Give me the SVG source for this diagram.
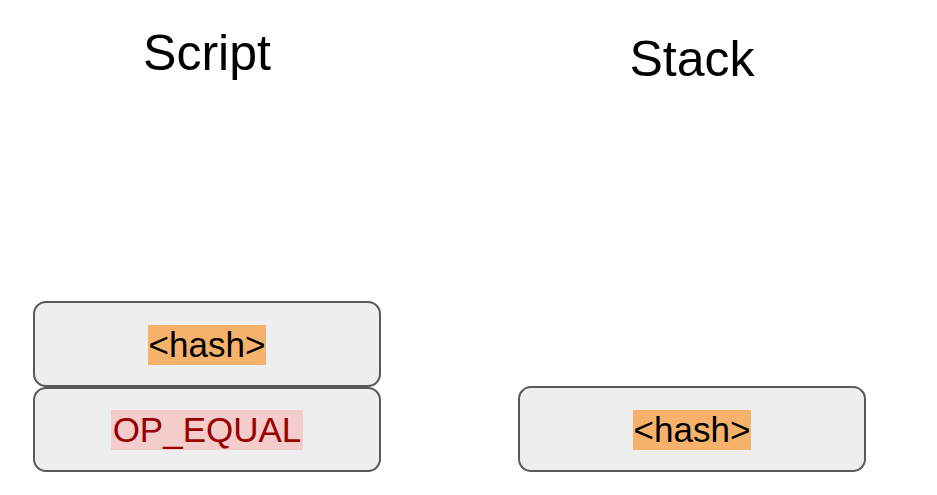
<svg xmlns="http://www.w3.org/2000/svg" width="937" height="495" viewBox="0 0 937 495">
<style>
.box{fill:#eeeeee;stroke:#595959;stroke-width:2}
.t{font-family:"Liberation Sans",Arial,sans-serif;text-anchor:middle}
.title{font-size:50px;fill:#000}
.lbl{font-size:35px}
</style>
<rect width="937" height="495" fill="#ffffff"/>
<g id="title-script"><text class="t title" x="207" y="70">Script</text></g>
<g id="title-stack"><text class="t title" x="692" y="76">Stack</text></g>
<g id="script-hash">
<rect class="box" x="34" y="302" width="346" height="84" rx="12"/>
<rect x="148" y="325" width="118" height="40" fill="#f6b26b"/>
<text class="t lbl" x="207" y="357" fill="#000">&lt;hash&gt;</text>
</g>
<g id="script-op-equal">
<rect class="box" x="34" y="388" width="346" height="83" rx="12"/>
<rect x="111" y="410" width="192" height="40" fill="#f4cccc"/>
<text class="t lbl" x="207" y="442" fill="#990000">OP_EQUAL</text>
</g>
<g id="stack-hash">
<rect class="box" x="519" y="387" width="346" height="84" rx="12"/>
<rect x="633" y="410" width="118" height="40" fill="#f6b26b"/>
<text class="t lbl" x="692" y="442" fill="#000">&lt;hash&gt;</text>
</g>
<g id="connectors"></g>
</svg>
